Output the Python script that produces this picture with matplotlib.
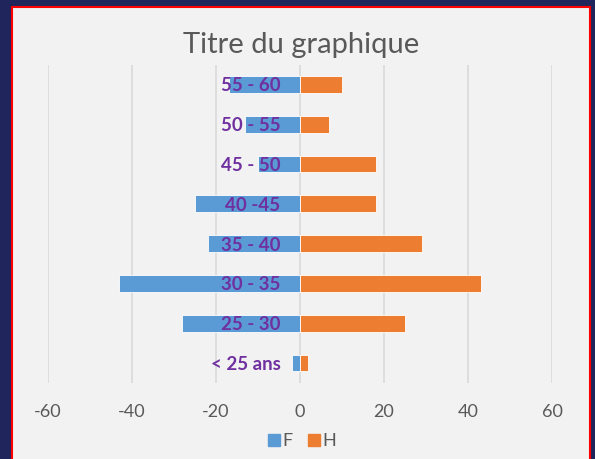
import numpy as np
import matplotlib
matplotlib.use("Agg")
import matplotlib.pyplot as plt
from matplotlib.patches import Rectangle
from matplotlib.lines import Line2D

plt.rcParams['font.family'] = ['Lato', 'DejaVu Sans']

# age groups (bottom to top) and counts
categories = ['< 25 ans', '25 - 30', '30 - 35', '35 - 40', '40 -45', '45 - 50', '50 - 55', '55 - 60']
femmes = [-2, -28, -43, -22, -25, -10, -13, -17]
hommes = [2, 25, 43, 29, 18, 18, 7, 10]
xticks = [-60, -40, -20, 0, 20, 40, 60]

blue = '#5B9BD5'
orange = '#ED7D31'
grey_txt = '#595959'

fig = plt.figure(figsize=(5.95, 4.59), dpi=100)
fig.patch.set_facecolor('#20265C')

# light chart area with red border
bg = Rectangle((12 / 595, -0.05), 578 / 595, 1.05 - 7 / 459, transform=fig.transFigure,
               facecolor='#F2F2F2', edgecolor='#FF0000', linewidth=1.5, zorder=-10)
fig.patches.append(bg)

ax = fig.add_axes([48 / 595, 76 / 459, 504 / 595, 318.5 / 459])
ax.set_facecolor('none')

y = np.arange(len(categories))
ax.barh(y, femmes, height=0.42, color=blue, edgecolor='white', linewidth=0.6, label='F', zorder=2)
ax.barh(y, hommes, height=0.42, color=orange, edgecolor='white', linewidth=0.6, label='H', zorder=2)

ax.set_xlim(-60, 60)
ax.set_ylim(-0.5, len(categories) - 0.5)
ax.set_xticks(xticks)
ax.set_xticklabels([str(v) for v in xticks])
ax.grid(axis='x', color='#D9D9D9', linewidth=1.2)
# gridlines under the bars, category labels over them
ax.xaxis.set_zorder(0.5)
ax.yaxis.set_zorder(5)

for s in ['top', 'right', 'bottom']:
    ax.spines[s].set_visible(False)
ax.spines['left'].set_position(('data', 0))
ax.spines['left'].set_visible(False)

ax.set_yticks(y)
ax.set_yticklabels(categories)
ax.tick_params(axis='y', length=0, pad=14, labelsize=13.5, labelcolor='#7030A0')
for lbl in ax.get_yticklabels():
    lbl.set_fontweight('bold')
ax.tick_params(axis='x', length=0, pad=15, labelsize=13, labelcolor=grey_txt)

fig.text(301 / 595, 1 - 45 / 459, 'Titre du graphique', ha='center', va='center',
         fontsize=21, color=grey_txt)

handles = [Line2D([], [], marker='s', linestyle='none', markersize=8, color=blue),
           Line2D([], [], marker='s', linestyle='none', markersize=8, color=orange)]
fig.legend(handles, ['F', 'H'], loc='center', bbox_to_anchor=(302 / 595, 1 - 441 / 459),
           ncol=2, frameon=False, fontsize=13, handlelength=0.7, handletextpad=0.15,
           columnspacing=0.8, labelcolor=grey_txt)

fig.savefig('out.png', dpi=100, facecolor=fig.get_facecolor())
